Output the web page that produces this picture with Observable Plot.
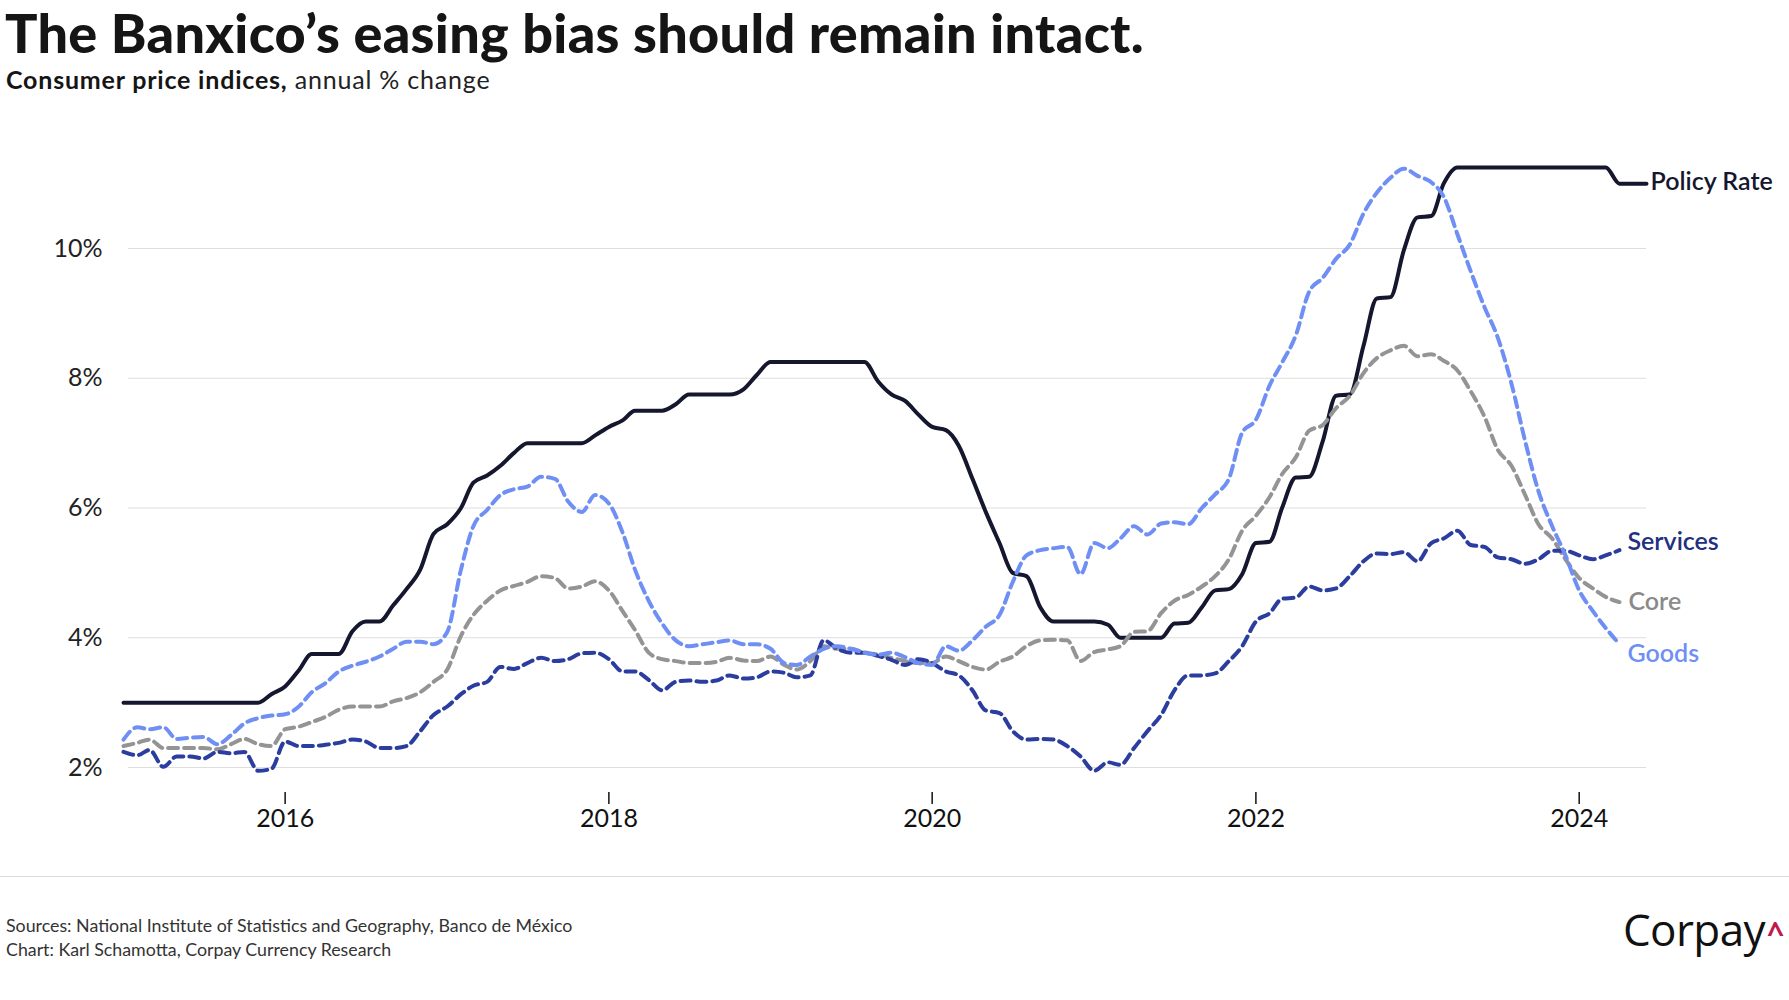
<!DOCTYPE html>
<html>
<head>
<meta charset="utf-8">
<script src="https://cdn.jsdelivr.net/npm/d3@7"></script>
<script src="https://cdn.jsdelivr.net/npm/@observablehq/plot@0.6"></script>
<style>
  html, body { margin: 0; padding: 0; background: #fff; }
  #page { position: relative; width: 1789px; height: 1000px; overflow: hidden; font-family: Lato, "Noto Sans", sans-serif; color: #111; }
  #title { position: absolute; left: 5px; top: 1px; font-size: 54px; line-height: 1.2; font-weight: 900; letter-spacing: 0.3px; color: #151515; white-space: nowrap; }
  #subtitle { position: absolute; left: 6px; top: 64px; font-size: 25px; line-height: 1.2; letter-spacing: 0.8px; color: #222; white-space: nowrap; }
  #subtitle b { font-weight: 700; color: #151515; }
  #chart { position: absolute; left: 0; top: 110px; }
  #sep { position: absolute; left: 0; top: 876px; width: 1789px; height: 1px; background: #dcdcdc; }
  .foot { position: absolute; left: 6px; font-size: 17.8px; line-height: 1.2; color: #333; white-space: nowrap; }
  #logo { position: absolute; left: 1623px; top: 903px; font-family: "Open Sans", Lato, sans-serif; font-size: 44px; line-height: 1.2; color: #111; white-space: nowrap; letter-spacing: -0.6px; }
  #logo span { color: #c0194a; font-weight: 700; font-size: 30px; position: relative; top: -2px; margin-left: 2px; }
</style>
</head>
<body>
<div id="page">
  <div id="title">The Banxico’s easing bias should remain intact.</div>
  <div id="subtitle"><b>Consumer price indices,</b> annual % change</div>
  <div id="chart"></div>
  <div id="sep"></div>
  <div class="foot" style="top:915px">Sources: National Institute of Statistics and Geography, Banco de México</div>
  <div class="foot" style="top:939px">Chart: Karl Schamotta, Corpay Currency Research</div>
  <div id="logo">Corpay<span>^</span></div>
</div>
<script>
// Monthly series, January 2015 onward
const startMonth = "2015-01-01";
const endMonth = "2024-06-01";

const seriesNames = ["Policy Rate", "Services", "Core", "Goods"];

const policyRate = [
  3.0,3.0,3.0,3.0,3.0,3.0,3.0,3.0,3.0,3.0,3.0,
  3.13,3.25,3.5,3.75,3.75,3.75,4.1,4.25,4.25,4.5,
  4.75,5.05,5.6,5.75,6.0,6.39,6.5,6.65,6.85,7.0,
  7.0,7.0,7.0,7.0,7.12,7.25,7.35,7.5,7.5,7.5,
  7.6,7.75,7.75,7.75,7.75,7.83,8.05,8.25,8.25,8.25,
  8.25,8.25,8.25,8.25,8.25,7.95,7.75,7.65,7.44,7.25,
  7.2,6.96,6.45,5.94,5.46,5.0,4.95,4.47,4.25,4.25,
  4.25,4.25,4.2,4.0,4.0,4.0,4.0,4.22,4.23,4.47,
  4.73,4.75,4.98,5.46,5.48,6.0,6.47,6.48,7.03,7.73,
  7.75,8.5,9.23,9.25,9.97,10.48,10.5,11.0,11.25,11.25,
  11.25,11.25,11.25,11.25,11.25,11.25,11.25,11.25,11.25,11.25,
  11.0,11.0,11.0
];

const goods = [
  2.43,2.62,2.59,2.62,2.44,2.46,2.47,2.36,2.5,2.68,
  2.76,2.8,2.82,2.94,3.16,3.3,3.48,3.57,3.63,3.71,
  3.83,3.94,3.94,3.9,4.09,5.05,5.72,5.97,6.2,6.29,
  6.33,6.48,6.45,6.1,5.94,6.2,6.07,5.62,5.05,4.57,
  4.22,3.96,3.87,3.9,3.93,3.96,3.9,3.9,3.83,3.61,
  3.58,3.71,3.83,3.87,3.83,3.77,3.74,3.77,3.7,3.61,
  3.58,3.87,3.8,3.96,4.17,4.35,4.86,5.27,5.35,5.38,
  5.4,4.98,5.46,5.38,5.53,5.72,5.59,5.76,5.78,5.75,
  6.0,6.21,6.45,7.16,7.36,7.89,8.24,8.66,9.33,9.55,
  9.84,10.06,10.54,10.86,11.09,11.23,11.12,11.02,10.8,10.22,
  9.65,9.1,8.63,7.92,7.03,6.26,5.72,5.27,4.73,4.41,
  4.15,3.9
];

const core = [
  2.33,2.38,2.43,2.3,2.3,2.3,2.3,2.28,2.36,2.44,
  2.36,2.33,2.59,2.63,2.7,2.78,2.89,2.94,2.94,2.94,
  3.02,3.07,3.16,3.32,3.51,4.03,4.35,4.57,4.73,4.8,
  4.86,4.95,4.92,4.76,4.79,4.87,4.73,4.41,4.12,3.77,
  3.67,3.64,3.61,3.61,3.63,3.69,3.65,3.64,3.71,3.58,
  3.51,3.64,3.87,3.83,3.83,3.77,3.74,3.69,3.64,3.61,
  3.61,3.71,3.64,3.55,3.51,3.63,3.71,3.87,3.96,3.97,
  3.96,3.64,3.78,3.82,3.87,4.09,4.1,4.38,4.57,4.66,
  4.79,4.95,5.21,5.65,5.88,6.17,6.52,6.78,7.19,7.28,
  7.54,7.73,8.08,8.31,8.43,8.5,8.34,8.37,8.27,8.12,
  7.8,7.41,6.9,6.65,6.2,5.75,5.53,5.21,4.92,4.76,
  4.63,4.55
];

const services = [
  2.24,2.19,2.27,2.01,2.17,2.17,2.14,2.24,2.22,2.24,
  1.95,1.98,2.4,2.33,2.33,2.35,2.38,2.43,2.4,2.3,
  2.3,2.33,2.56,2.81,2.94,3.13,3.26,3.32,3.55,3.52,
  3.61,3.69,3.64,3.67,3.76,3.77,3.67,3.48,3.48,3.35,
  3.19,3.32,3.34,3.32,3.34,3.42,3.37,3.39,3.48,3.46,
  3.39,3.42,3.96,3.83,3.77,3.77,3.72,3.66,3.58,3.67,
  3.61,3.48,3.42,3.19,2.88,2.84,2.56,2.43,2.44,2.43,
  2.33,2.17,1.95,2.08,2.04,2.3,2.56,2.81,3.19,3.42,
  3.42,3.45,3.64,3.87,4.25,4.38,4.6,4.62,4.79,4.73,
  4.76,4.95,5.18,5.3,5.29,5.32,5.18,5.46,5.53,5.65,
  5.43,5.4,5.24,5.21,5.14,5.21,5.34,5.34,5.27,5.21,
  5.27,5.35
];

const yTicks = [2, 4, 6, 8, 10];
const xTickYears = [2016, 2018, 2020, 2022, 2024];

const colors = {
  "Policy Rate": "#14172e",
  "Services": "#2b3d9e",
  "Core": "#949494",
  "Goods": "#6f8ff5"
};
const labelColors = {
  "Policy Rate": "#14172e",
  "Services": "#213080",
  "Core": "#8a8a8a",
  "Goods": "#6f8ff5"
};

const months = d3.utcMonth.range(new Date(startMonth), d3.utcMonth.offset(new Date(endMonth), 1));
const toRows = (vals, name) => vals.map((v, i) => ({date: months[i], value: v, series: name}));

const policyRows = toRows(policyRate, "Policy Rate");
const servicesRows = toRows(services, "Services");
const coreRows = toRows(core, "Core");
const goodsRows = toRows(goods, "Goods");

const dash = "10,6";

const lastLabel = (rows, name, dx, dy) => Plot.text([rows[rows.length - 1]], {
  x: "date", y: "value", text: () => name, dx, dy,
  textAnchor: "start", fill: labelColors[name], fontSize: 25, fontWeight: 600
});

const chart = Plot.plot({
  width: 1789,
  height: 740,
  marginLeft: 128,
  marginRight: 143,
  marginTop: 20,
  marginBottom: 58,
  style: {fontFamily: "Lato, 'Noto Sans', sans-serif", fontSize: "24px", color: "#222", background: "transparent", overflow: "visible"},
  x: {type: "utc", domain: [new Date(startMonth), new Date(endMonth)], range: [123, 1646], label: null},
  y: {domain: [2, 10], range: [657, 138], label: null},
  marks: [
    Plot.gridY(yTicks, {stroke: "#dedede", strokeOpacity: 1, strokeWidth: 1}),
    Plot.axisY(yTicks, {tickSize: 0, tickPadding: 26, fontSize: 25, tickFormat: d => d + "%", fill: "#222", label: null}),
    Plot.axisX(xTickYears.map(y => new Date(Date.UTC(y, 0, 1))), {tickSize: 12, tickPadding: 5, fontSize: 25, tickFormat: d3.utcFormat("%Y"), fill: "#111", stroke: "#111", strokeWidth: 1.5, label: null}),
    Plot.line(policyRows, {x: "date", y: "value", stroke: colors["Policy Rate"], strokeWidth: 4, curve: "monotone-x"}),
    Plot.line(coreRows, {x: "date", y: "value", stroke: colors["Core"], strokeWidth: 4, strokeDasharray: dash, curve: "monotone-x"}),
    Plot.line(servicesRows, {x: "date", y: "value", stroke: colors["Services"], strokeWidth: 4, strokeDasharray: dash, curve: "monotone-x"}),
    Plot.line(goodsRows, {x: "date", y: "value", stroke: colors["Goods"], strokeWidth: 4, strokeDasharray: dash, curve: "monotone-x"}),
    lastLabel(policyRows, "Policy Rate", 4, -2),
    lastLabel(servicesRows, "Services", 8, -8),
    lastLabel(coreRows, "Core", 9, 0),
    lastLabel(goodsRows, "Goods", 8, 10)
  ]
});
document.getElementById("chart").appendChild(chart);
</script>
</body>
</html>
